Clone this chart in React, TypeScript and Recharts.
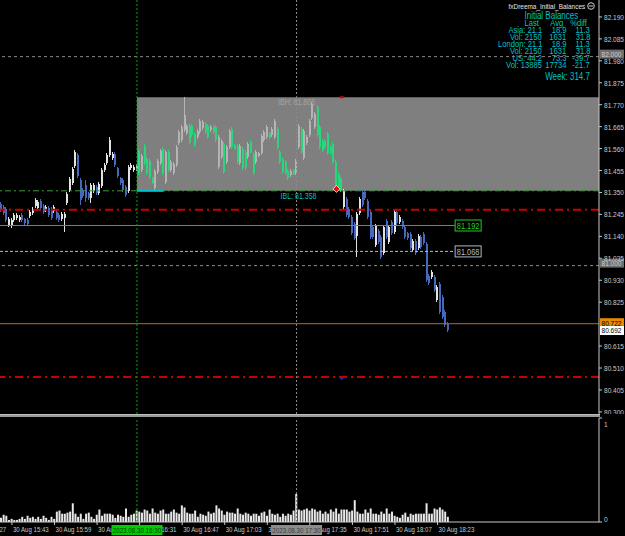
import React from 'react';
import { Bar, ComposedChart, ReferenceArea, ReferenceDot, ReferenceLine, XAxis, YAxis } from 'recharts';

type OHLC = [number, number, number, number]; // open, high, low, close

// M1 bars, 30 Aug, first bar 15:39
const beforeOpen: OHLC[] = [
    [81.295, 81.305, 81.257, 81.266], [81.281, 81.29, 81.242, 81.252], [81.271, 81.281, 81.209, 81.218],
    [81.194, 81.233, 81.185, 81.223], [81.19, 81.228, 81.18, 81.218], [81.218, 81.252, 81.209, 81.242],
    [81.228, 81.252, 81.218, 81.242], [81.218, 81.242, 81.209, 81.233], [81.242, 81.252, 81.209, 81.218],
    [81.223, 81.228, 81.194, 81.204], [81.218, 81.228, 81.19, 81.199], [81.237, 81.266, 81.228, 81.257],
    [81.252, 81.281, 81.242, 81.271], [81.285, 81.324, 81.276, 81.314], [81.276, 81.314, 81.266, 81.305],
    [81.309, 81.319, 81.266, 81.276], [81.285, 81.295, 81.247, 81.257], [81.266, 81.29, 81.257, 81.281],
    [81.276, 81.285, 81.233, 81.242], [81.271, 81.281, 81.218, 81.228], [81.261, 81.29, 81.252, 81.281],
    [81.257, 81.266, 81.218, 81.228], [81.242, 81.252, 81.209, 81.218], [81.223, 81.257, 81.214, 81.247],
    [81.228, 81.257, 81.161, 81.247], [81.3, 81.352, 81.29, 81.343], [81.362, 81.424, 81.352, 81.414],
    [81.395, 81.472, 81.386, 81.462], [81.477, 81.553, 81.467, 81.544], [81.529, 81.539, 81.419, 81.429],
    [81.41, 81.419, 81.29, 81.314], [81.362, 81.371, 81.324, 81.333], [81.386, 81.41, 81.305, 81.324],
    [81.348, 81.352, 81.314, 81.324], [81.324, 81.395, 81.3, 81.386], [81.357, 81.395, 81.348, 81.386],
    [81.376, 81.386, 81.338, 81.348], [81.348, 81.4, 81.338, 81.391], [81.381, 81.467, 81.371, 81.457],
    [81.457, 81.491, 81.448, 81.481], [81.491, 81.539, 81.481, 81.529], [81.529, 81.615, 81.52, 81.601],
    [81.515, 81.544, 81.505, 81.534], [81.534, 81.544, 81.472, 81.481], [81.467, 81.472, 81.419, 81.429],
    [81.419, 81.424, 81.386, 81.395], [81.41, 81.419, 81.352, 81.362], [81.376, 81.386, 81.328, 81.338],
    [81.357, 81.481, 81.348, 81.472], [81.467, 81.491, 81.457, 81.481], [81.457, 81.481, 81.448, 81.472],
];

// 16:30 - 17:30
const initialBalance: OHLC[] = [
    [81.462, 81.486, 81.453, 81.477], [81.548, 81.558, 81.434, 81.443], [81.457, 81.534, 81.448, 81.525],
    [81.572, 81.582, 81.481, 81.491], [81.51, 81.52, 81.434, 81.443], [81.501, 81.51, 81.414, 81.424],
    [81.419, 81.424, 81.391, 81.395], [81.371, 81.462, 81.358, 81.453], [81.448, 81.51, 81.438, 81.501],
    [81.491, 81.558, 81.481, 81.548], [81.558, 81.568, 81.434, 81.443], [81.4, 81.553, 81.391, 81.544],
    [81.544, 81.553, 81.448, 81.457], [81.457, 81.505, 81.448, 81.496], [81.443, 81.496, 81.434, 81.486],
    [81.481, 81.577, 81.472, 81.568], [81.587, 81.649, 81.577, 81.639], [81.601, 81.673, 81.592, 81.663],
    [81.649, 81.806, 81.639, 81.721], [81.634, 81.678, 81.625, 81.668], [81.668, 81.678, 81.582, 81.592],
    [81.668, 81.678, 81.615, 81.625], [81.63, 81.639, 81.568, 81.577], [81.615, 81.654, 81.606, 81.644],
    [81.639, 81.702, 81.63, 81.692], [81.658, 81.697, 81.649, 81.687], [81.678, 81.687, 81.63, 81.639],
    [81.668, 81.678, 81.606, 81.615], [81.649, 81.673, 81.639, 81.663], [81.663, 81.673, 81.63, 81.639],
    [81.663, 81.673, 81.592, 81.601], [81.472, 81.625, 81.462, 81.615], [81.52, 81.606, 81.51, 81.596],
    [81.582, 81.592, 81.438, 81.448], [81.496, 81.577, 81.486, 81.568], [81.568, 81.654, 81.558, 81.644],
    [81.654, 81.663, 81.558, 81.568], [81.577, 81.582, 81.553, 81.558], [81.572, 81.582, 81.486, 81.496],
    [81.491, 81.582, 81.481, 81.572], [81.558, 81.568, 81.457, 81.467], [81.544, 81.553, 81.457, 81.467],
    [81.52, 81.592, 81.51, 81.582], [81.592, 81.601, 81.534, 81.544], [81.534, 81.544, 81.434, 81.443],
    [81.496, 81.553, 81.486, 81.544], [81.525, 81.544, 81.52, 81.539], [81.539, 81.63, 81.529, 81.62],
    [81.601, 81.649, 81.592, 81.639], [81.615, 81.673, 81.606, 81.663], [81.634, 81.639, 81.606, 81.611],
    [81.625, 81.663, 81.615, 81.654], [81.615, 81.702, 81.606, 81.692], [81.654, 81.663, 81.553, 81.563],
    [81.544, 81.553, 81.486, 81.496], [81.51, 81.52, 81.438, 81.448], [81.496, 81.505, 81.434, 81.443],
    [81.453, 81.462, 81.41, 81.419], [81.434, 81.462, 81.424, 81.453], [81.457, 81.462, 81.434, 81.438],
    [81.443, 81.51, 81.434, 81.501],
];

const afterBalance: OHLC[] = [
    [81.568, 81.678, 81.558, 81.668], [81.654, 81.663, 81.534, 81.544], [81.515, 81.654, 81.505, 81.644],
    [81.587, 81.625, 81.577, 81.615], [81.625, 81.702, 81.615, 81.692], [81.706, 81.783, 81.697, 81.773],
    [81.663, 81.735, 81.654, 81.725], [81.759, 81.769, 81.615, 81.625], [81.663, 81.673, 81.558, 81.568],
    [81.596, 81.606, 81.544, 81.553], [81.596, 81.606, 81.558, 81.568], [81.63, 81.639, 81.529, 81.539],
    [81.568, 81.577, 81.529, 81.539], [81.582, 81.592, 81.486, 81.496], [81.496, 81.505, 81.367, 81.376],
    [81.438, 81.448, 81.367, 81.376], [81.414, 81.424, 81.352, 81.362], [81.281, 81.367, 81.266, 81.357],
    [81.319, 81.328, 81.233, 81.242], [81.271, 81.281, 81.223, 81.233], [81.233, 81.242, 81.146, 81.156],
    [81.199, 81.209, 81.123, 81.132], [81.142, 81.257, 81.041, 81.247], [81.252, 81.328, 81.242, 81.319],
    [81.352, 81.362, 81.281, 81.29], [81.352, 81.362, 81.314, 81.324], [81.309, 81.319, 81.223, 81.233],
    [81.257, 81.266, 81.127, 81.137], [81.185, 81.194, 81.127, 81.137], [81.099, 81.199, 81.089, 81.19],
    [81.166, 81.175, 81.103, 81.113], [81.137, 81.146, 81.032, 81.041], [81.06, 81.194, 81.051, 81.185],
    [81.214, 81.223, 81.127, 81.137], [81.113, 81.194, 81.103, 81.185], [81.209, 81.218, 81.146, 81.156],
    [81.161, 81.266, 81.151, 81.257], [81.257, 81.266, 81.194, 81.204], [81.209, 81.242, 81.199, 81.233],
    [81.214, 81.223, 81.175, 81.185], [81.185, 81.194, 81.127, 81.137], [81.156, 81.161, 81.123, 81.132],
    [81.151, 81.161, 81.075, 81.084], [81.075, 81.127, 81.065, 81.118], [81.118, 81.127, 81.051, 81.06],
    [81.084, 81.151, 81.075, 81.142], [81.137, 81.146, 81.079, 81.089], [81.151, 81.161, 81.099, 81.108],
    [81.103, 81.113, 80.922, 80.931], [80.95, 80.96, 80.907, 80.917], [80.946, 80.979, 80.936, 80.97],
    [80.946, 80.955, 80.874, 80.883], [80.836, 80.907, 80.826, 80.898], [80.912, 80.922, 80.768, 80.778],
    [80.85, 80.859, 80.745, 80.755], [80.778, 80.788, 80.706, 80.716], [80.721, 80.73, 80.682, 80.692],
];

// volume window, scaled 0..1
const volume = [
    0.04, 0.07, 0.06, 0.02, 0.03, 0.02, 0.02, 0.03, 0.05, 0.03, 0.06, 0.04, 0.05, 0.03, 0.05, 0.03, 0.06,
    0.04, 0.02, 0.05, 0.03, 0.1, 0.11, 0.08, 0.08, 0.09, 0.1, 0.18, 0.08, 0.05, 0.08, 0.03, 0.08, 0.09,
    0.05, 0.03, 0.07, 0.12, 0.06, 0.08, 0.08, 0.08, 0.07, 0.04, 0.07, 0.06, 0.05, 0.13, 0.05, 0.07, 0.08,
    0.11, 0.1, 0.09, 0.12, 0.11, 0.08, 0.13, 0.09, 0.08, 0.11, 0.12, 0.08, 0.08, 0.1, 0.12, 0.09, 0.08,
    0.16, 0.14, 0.09, 0.08, 0.08, 0.11, 0.05, 0.08, 0.07, 0.06, 0.1, 0.08, 0.09, 0.16, 0.13, 0.11, 0.07,
    0.1, 0.09, 0.09, 0.08, 0.13, 0.08, 0.07, 0.09, 0.08, 0.06, 0.08, 0.08, 0.06, 0.09, 0.1, 0.06, 0.12,
    0.08, 0.07, 0.08, 0.05, 0.08, 0.06, 0.08, 0.07, 0.11, 0.27,
    0.12, 0.11, 0.12, 0.13, 0.11, 0.13, 0.12, 0.1, 0.11, 0.08, 0.1, 0.08, 0.12, 0.1, 0.13, 0.08, 0.12,
    0.12, 0.12, 0.1, 0.11, 0.21, 0.1, 0.08, 0.08, 0.12, 0.09, 0.13, 0.08, 0.08, 0.07, 0.1, 0.08, 0.13,
    0.08, 0.1, 0.06, 0.05, 0.04, 0.07, 0.09, 0.05, 0.08, 0.07, 0.08, 0.08, 0.08, 0.08, 0.18, 0.08, 0.08,
    0.13, 0.12, 0.14, 0.12, 0.1, 0.05,
];

// 80.720 sits under the ask tag, as in the terminal
const priceTicks = [
    82.19, 82.085, 81.98, 81.875, 81.77, 81.665, 81.56, 81.455, 81.35, 81.245, 81.14, 81.035, 80.93,
    80.825, 80.615, 80.51, 80.405, 80.3,
];
const timeTicks = [-12, 4, 20, 36, 52, 68, 84, 100, 116, 132, 148, 164];
const timeLabels = [
    '30 Aug 15:27', '30 Aug 15:43', '30 Aug 15:59', '30 Aug 16:15', '30 Aug 16:31', '30 Aug 16:47',
    '30 Aug 17:03', '30 Aug 17:19', '30 Aug 17:35', '30 Aug 17:51', '30 Aug 18:07', '30 Aug 18:23',
];
const sessionTicks = [51, 111];
const sessionLabels = ['2023.08.30 16:30', '2023.08.30 17:30'];

const IBH = 81.806;
const IBL = 81.358;
const redLevels = [81.267, 80.467];
const roundLevels = [82.0, 81.0];
const greenLevel = 81.192;
const blueLevel = 81.068;
const askPrice = 80.722;
const bidPrice = 80.692;

const ibHeader = ['Last', 'Avg', '%diff'];
const ibRows = [
    ['Asia: 21.1', '18.9', '11.3'],
    ['Vol: 2150', '1631', '31.8'],
    ['London: 21.1', '18.9', '11.3'],
    ['Vol: 2150', '1631', '31.8'],
    ['US: 44.2', '73.3', '-39.7'],
    ['Vol: 13885', '17734', '-21.7'],
];
const weekLine = 'Week: 314.7';

const X_MIN = -0.49;
const X_MAX = 224.7;
const P_MAX = 82.271;
const P_MIN = 80.29;
const TAG_AT = 175.5;

const FONT = '"Liberation Sans", Arial, sans-serif';
const AXIS_COLOR = '#c8c8c8';
const CYAN = '#00c2c8';

const bars = [...beforeOpen, ...initialBalance, ...afterBalance].map(([o, h, l, c], i) => ({
    i,
    o,
    h,
    l,
    c,
    range: [l, h],
    vol: volume[i],
}));

function candleColor(d: { i: number; o: number; c: number; h: number; l: number }) {
    const up = d.c >= d.o;
    const inBox = d.i >= sessionTicks[0] && (d.h + d.l) / 2 > IBL;
    if (inBox) return up ? '#b4b4b4' : '#28d67c';
    return up ? '#e2e2e2' : '#4668bd';
}

// narrow text, the terminal font is condensed
function NText({ x, y, size, fill, anchor = 'start', sx = 0.8, children }: any) {
    return (
        <g transform={`translate(${x} ${y}) scale(${sx} 1)`}>
            <text x={0} y={0} fontSize={size} fill={fill} textAnchor={anchor} fontFamily={FONT}>
                {children}
            </text>
        </g>
    );
}

function CandleShape(props: any) {
    const { x, y, width, height, payload } = props;
    if (x == null || y == null) return null;
    const top = Math.min(y, y + height);
    const span = Math.abs(height);
    const k = payload.h > payload.l ? span / (payload.h - payload.l) : 0;
    const yo = top + (payload.h - payload.o) * k;
    const yc = top + (payload.h - payload.c) * k;
    const cx = Math.round(x + width / 2);
    const col = candleColor(payload);
    return (
        <g shapeRendering="crispEdges">
            <rect x={cx - 1} y={top} width={1} height={Math.max(1, span)} fill={col} />
            <rect x={cx - 1} y={Math.min(yo, yc)} width={2} height={Math.max(1, Math.abs(yc - yo))} fill={col} />
        </g>
    );
}

function LevelTag({ cx, cy, text, color }: { cx: number; cy: number; text: string; color: string }) {
    return (
        <g>
            <rect x={cx - 13} y={cy - 5.5} width={26} height={11} fill="#000" stroke={color} />
            <NText x={cx} y={cy + 3.5} size={9} fill={color} anchor="middle" sx={0.82}>
                {text}
            </NText>
        </g>
    );
}

function AxisTag({ cx, cy, text, bg, fg }: { cx: number; cy: number; text: string; bg: string; fg: string }) {
    return (
        <g>
            <rect x={cx + 1} y={cy - 4.5} width={24} height={9} fill={bg} />
            <NText x={cx + 2.5} y={cy + 3} size={8} fill={fg} sx={0.82}>
                {text}
            </NText>
        </g>
    );
}

function PriceTick(props: any) {
    const { x, y, payload } = props;
    return (
        <NText x={x} y={y + 3} size={8} fill={AXIS_COLOR} sx={0.82}>
            {Number(payload.value).toFixed(3)}
        </NText>
    );
}

function TimeTick(props: any) {
    const { x, y, payload } = props;
    const s = sessionTicks.indexOf(payload.value);
    if (s >= 0) {
        const green = s === 0;
        return (
            <g>
                <rect x={x - 25.5} y={y + 3} width={51} height={10} fill={green ? '#00cc00' : '#8c8c8c'} />
                <NText x={x} y={y + 11} size={8} anchor="middle" sx={0.78} fill={green ? '#004000' : '#3c3c3c'}>
                    {sessionLabels[s]}
                </NText>
            </g>
        );
    }
    const k = timeTicks.indexOf(payload.value);
    return (
        <g>
            <line x1={x} x2={x} y1={y} y2={y + 3} stroke={AXIS_COLOR} />
            <NText x={x + 1} y={y + 10} size={8} sx={0.76} fill={AXIS_COLOR}>
                {timeLabels[k]}
            </NText>
        </g>
    );
}

function VolTick(props: any) {
    const { x, y, payload } = props;
    return (
        <NText x={x} y={payload.value === 1 ? y + 9 : y} size={8} fill={AXIS_COLOR} sx={0.82}>
            {payload.value}
        </NText>
    );
}

function InfoPanel() {
    const base = {
        position: 'absolute' as const,
        whiteSpace: 'nowrap' as const,
        lineHeight: '9px',
        transform: 'scaleX(0.8)',
        transformOrigin: 'right center',
    };
    const cols = [83, 59, 35];
    return (
        <div style={{ position: 'absolute', left: 0, top: 0, width: 625, height: 90, fontFamily: FONT, fontSize: 9.5, pointerEvents: 'none' }}>
            <div style={{ ...base, right: 40, top: 1.5, color: '#e4e4e4', fontSize: 7.5, transform: 'scaleX(0.86)' }}>
                fxDreema_Initial_Balances
            </div>
            <svg style={{ position: 'absolute', left: 587, top: 2 }} width={8} height={8}>
                <circle cx={4} cy={4} r={3.3} fill="none" stroke="#d0d0d0" />
                <line x1={2} x2={6} y1={4} y2={4} stroke="#d0d0d0" />
            </svg>
            <div style={{ ...base, right: 47, top: 10.5, color: CYAN, fontSize: 10 }}>Initial Balances</div>
            {ibHeader.map((t, j) => (
                <div key={t} style={{ ...base, right: cols[j] + 3, top: 18, color: CYAN }}>
                    {t}
                </div>
            ))}
            {ibRows.map((row, r) =>
                row.map((t, j) => (
                    <div key={`${r}-${j}`} style={{ ...base, right: cols[j], top: 25.05 + r * 7.05, color: CYAN }}>
                        {t}
                    </div>
                )),
            )}
            <div style={{ ...base, right: 35, top: 72.2, color: CYAN, fontSize: 10 }}>{weekLine}</div>
        </div>
    );
}

export default function App() {
    return (
        <div style={{ position: 'absolute', left: 0, top: 0, width: 625, height: 536, background: '#000', overflow: 'hidden' }}>
            <div style={{ position: 'absolute', left: 0, top: 0 }}>
                <ComposedChart width={625} height={414} data={bars} margin={{ top: 0, right: 0, bottom: 0, left: 0 }}>
                    <XAxis type="number" dataKey="i" domain={[X_MIN, X_MAX]} allowDataOverflow hide />
                    <YAxis
                        orientation="right"
                        width={26}
                        domain={[P_MIN, P_MAX]}
                        allowDataOverflow
                        ticks={priceTicks}
                        interval={0}
                        tick={PriceTick}
                        tickSize={3}
                        tickMargin={2}
                        tickLine={{ stroke: AXIS_COLOR }}
                        axisLine={{ stroke: AXIS_COLOR }}
                    />
                    <ReferenceArea x1={sessionTicks[0]} x2={X_MAX} y1={IBL} y2={IBH} fill="#7f7f7f" fillOpacity={1} stroke="none" />
                    {roundLevels.map((p) => (
                        <ReferenceLine key={p} y={p} stroke="#8a8a8a" strokeDasharray="3 3" />
                    ))}
                    <ReferenceLine y={IBL} stroke="#3c9c3c" strokeDasharray="6 3 2 3" />
                    {redLevels.map((p) => (
                        <ReferenceLine key={p} y={p} stroke="#c80000" strokeWidth={2} strokeDasharray="8 4 2 4" />
                    ))}
                    <ReferenceLine segment={[{ x: X_MIN, y: greenLevel }, { x: TAG_AT - 4.9, y: greenLevel }]} stroke="#20c020" />
                    <ReferenceLine segment={[{ x: X_MIN, y: blueLevel }, { x: TAG_AT - 4.9, y: blueLevel }]} stroke="#a8bccc" strokeDasharray="3 2" />
                    <ReferenceLine y={askPrice} stroke="#c2661c" />
                    <ReferenceLine segment={[{ x: sessionTicks[0], y: IBL }, { x: sessionTicks[0] + 10, y: IBL }]} stroke={CYAN} strokeWidth={2} />
                    <ReferenceLine x={sessionTicks[0]} stroke="#00a800" strokeDasharray="2 2" />
                    <ReferenceLine x={sessionTicks[1]} stroke="#8a8a8a" strokeDasharray="2 2" />
                    <Bar dataKey="range" barSize={2} shape={CandleShape} isAnimationActive={false} />
                    <ReferenceDot
                        x={sessionTicks[1]}
                        y={IBH}
                        r={1}
                        shape={(p: any) => (
                            <NText x={p.cx} y={p.cy + 8} size={9} anchor="middle" fill="#a4a4a4" sx={0.78}>
                                {`IBH: ${IBH.toFixed(3)}`}
                            </NText>
                        )}
                    />
                    <ReferenceDot
                        x={sessionTicks[1]}
                        y={IBL}
                        r={1}
                        shape={(p: any) => (
                            <NText x={p.cx + 2} y={p.cy + 8} size={9} anchor="middle" fill={CYAN} sx={0.78}>
                                {`IBL: ${IBL.toFixed(3)}`}
                            </NText>
                        )}
                    />
                    <ReferenceDot
                        x={126}
                        y={81.367}
                        r={1}
                        shape={(p: any) => (
                            <path d={`M${p.cx} ${p.cy - 3.5}L${p.cx + 3.5} ${p.cy}L${p.cx} ${p.cy + 3.5}L${p.cx - 3.5} ${p.cy}Z`} fill="#e01010" stroke="#f0f0f0" strokeWidth={0.8} />
                        )}
                    />
                    <ReferenceDot x={128} y={IBH} r={1} shape={(p: any) => <rect x={p.cx - 2} y={p.cy - 1} width={4} height={2} fill="#d00000" />} />
                    <ReferenceDot x={128} y={80.462} r={1} shape={(p: any) => <rect x={p.cx - 1.5} y={p.cy - 0.5} width={3} height={2} fill="#2030c0" />} />
                    <ReferenceDot x={TAG_AT} y={greenLevel} r={1} shape={(p: any) => <LevelTag cx={p.cx} cy={p.cy} text={greenLevel.toFixed(3)} color="#20d020" />} />
                    <ReferenceDot x={TAG_AT} y={blueLevel} r={1} shape={(p: any) => <LevelTag cx={p.cx} cy={p.cy} text={blueLevel.toFixed(3)} color="#a8bccc" />} />
                    {roundLevels.map((lv) => (
                        <ReferenceDot key={lv} x={X_MAX} y={lv} r={1} shape={(p: any) => <AxisTag cx={p.cx} cy={p.cy - 2.5} text={lv.toFixed(3)} bg="#6e6e6e" fg="#cfcfcf" />} />
                    ))}
                    <ReferenceDot x={X_MAX} y={askPrice} r={1} shape={(p: any) => <AxisTag cx={p.cx} cy={p.cy - 1} text={askPrice.toFixed(3)} bg="#e88a00" fg="#000" />} />
                    <ReferenceDot x={X_MAX} y={bidPrice} r={1} shape={(p: any) => <AxisTag cx={p.cx} cy={p.cy + 0.5} text={bidPrice.toFixed(3)} bg="#fff" fg="#000" />} />
                </ComposedChart>
            </div>
            <div style={{ position: 'absolute', left: 0, top: 414, width: 600, height: 3, background: '#9a9a9a', borderTop: '1px solid #bdbdbd', boxSizing: 'border-box' }} />
            <div style={{ position: 'absolute', left: 0, top: 417 }}>
                <ComposedChart width={625} height={119} data={bars} margin={{ top: 1, right: 0, bottom: 0, left: 0 }}>
                    <XAxis
                        type="number"
                        dataKey="i"
                        domain={[X_MIN, X_MAX]}
                        allowDataOverflow
                        ticks={[...timeTicks, ...sessionTicks]}
                        interval={0}
                        height={14}
                        tickSize={0}
                        tickMargin={0}
                        tickLine={false}
                        axisLine={{ stroke: AXIS_COLOR }}
                        tick={TimeTick}
                    />
                    <YAxis
                        orientation="right"
                        width={26}
                        domain={[0, 1]}
                        allowDataOverflow
                        ticks={[0, 1]}
                        interval={0}
                        tickSize={3}
                        tickMargin={2}
                        tickLine={{ stroke: AXIS_COLOR }}
                        axisLine={{ stroke: AXIS_COLOR }}
                        tick={VolTick}
                    />
                    <ReferenceLine x={sessionTicks[0]} stroke="#00a800" strokeDasharray="2 2" />
                    <ReferenceLine x={sessionTicks[1]} stroke="#8a8a8a" strokeDasharray="2 2" />
                    <Bar dataKey="vol" barSize={2} fill="#e8e8e8" isAnimationActive={false} />
                </ComposedChart>
            </div>
            <InfoPanel />
        </div>
    );
}
